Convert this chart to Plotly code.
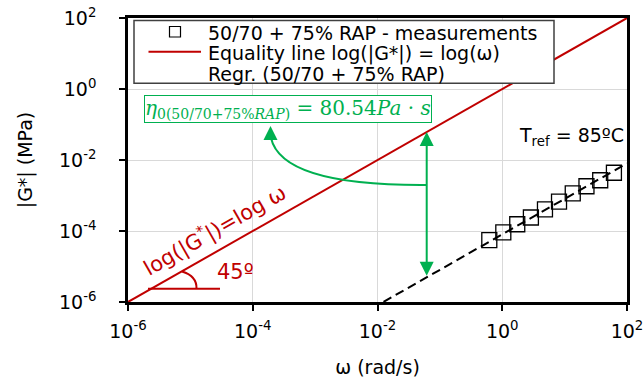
import numpy as np
import plotly.graph_objects as go

# ---- data ----
omega_meas = [0.62, 1.04, 1.74, 2.88, 4.84, 8.13, 13.5, 22.4, 37.2, 61.7]
G_meas = [5.56e-5, 9.12e-5, 1.55e-4, 2.40e-4, 4.07e-4, 6.76e-4, 1.15e-3, 1.82e-3, 2.69e-3, 4.37e-3]
eta0_Pas = 80.54
omega_range = [1e-6, 1e2]
omega_arrow = 0.0615
tick_vals = [1e-6, 1e-4, 1e-2, 1e0, 1e2]
tick_text = ["10<sup>-6</sup>", "10<sup>-4</sup>", "10<sup>-2</sup>", "10<sup>0</sup>", "10<sup>2</sup>"]
legend_names = ["50/70 + 75% RAP - measurements", "Equality line log(|G*|) = log(ω)", "Regr. (50/70 + 75% RAP)"]

G_eq = list(omega_range)
G_fit = [eta0_Pas * 1e-6 * w for w in omega_range]

RED = "#C00000"
GREEN = "#00B050"
FONT = "DejaVu Sans"

# body margin is removed via post_script, so the figure fills the window
W, H = 643, 378
L, T = 128, 18
PW, PH = 499, 284
R, B = W - L - PW, H - T - PH


def px(x):
    return (x - L) / PW


def py(y):
    return (T + PH - y) / PH


fig = go.Figure()
fig.add_trace(go.Scatter(
    x=omega_meas, y=G_meas, mode="markers", name=legend_names[0],
    marker=dict(symbol="square-open", size=15, color="black", line=dict(width=1.3, color="black")),
))
fig.add_trace(go.Scatter(
    x=omega_range, y=G_eq, mode="lines", name=legend_names[1],
    line=dict(color=RED, width=2),
))
fig.add_trace(go.Scatter(
    x=omega_range, y=G_fit, mode="lines", name=legend_names[2],
    line=dict(color="black", width=2, dash="9px,5px"),
))

axis_common = dict(
    type="log", tickvals=tick_vals, ticktext=tick_text, showgrid=True, gridcolor="#d9d9d9",
    gridwidth=1, showline=True, linecolor="black", linewidth=2.5, mirror=True,
    ticks="outside", ticklen=6, tickwidth=2, tickcolor="black", zeroline=False,
    tickfont=dict(family=FONT, size=19, color="black"), automargin=True,
    ticklabeloverflow="allow",
)
fig.update_xaxes(range=[-6, 2], ticklabelstandoff=4,
                 title=dict(text="ω (rad/s)", font=dict(family=FONT, size=19, color="black"), standoff=22),
                 **axis_common)
fig.update_yaxes(range=[-6, 2], ticklabelstandoff=19,
                 title=dict(text="|G*| (MPa)", font=dict(family=FONT, size=19, color="black"), standoff=22),
                 **axis_common)

shapes = []
# custom legend box
shapes.append(dict(type="rect", xref="paper", yref="paper", x0=px(134), y0=py(20.5), x1=px(554), y1=py(83.3),
                   line=dict(color="#404040", width=1.5), fillcolor="white", layer="above"))
shapes.append(dict(type="rect", xref="paper", yref="paper", x0=px(169.5), y0=py(26.5), x1=px(180.5), y1=py(37),
                   line=dict(color="black", width=1.2), fillcolor="rgba(0,0,0,0)", layer="above"))
shapes.append(dict(type="line", xref="paper", yref="paper", x0=px(148.5), y0=py(51.7), x1=px(201), y1=py(51.7),
                   line=dict(color=RED, width=2), layer="above"))
# curved green arrow body
x0, y0 = 426.7, 185
cx, cy = 282, 186
x1, y1 = 271, 138
shapes.append(dict(type="path", xref="paper", yref="paper",
                   path=f"M {px(x0)},{py(y0)} Q {px(cx)},{py(cy)} {px(x1)},{py(y1)}",
                   line=dict(color=GREEN, width=2)))
# 45 degree marker line and arc
shapes.append(dict(type="line", xref="paper", yref="paper", x0=px(148), y0=py(288.7), x1=px(220), y1=py(288.7),
                   line=dict(color=RED, width=2)))
shapes.append(dict(type="path", xref="paper", yref="paper",
                   path=f"M {px(182)},{py(271.5)} Q {px(197)},{py(276)} {px(196.5)},{py(288.7)}",
                   line=dict(color=RED, width=2)))

annotations = []
for name, yc in zip(legend_names, [32.5, 53.3, 73.8]):
    annotations.append(dict(x=px(206), y=py(yc), xref="paper", yref="paper", xanchor="left", yanchor="middle",
                            text=name, showarrow=False, font=dict(family=FONT, size=19, color="black")))
# vertical double arrow between equality line and regression line
lx = np.log10(omega_arrow)
annotations.append(dict(x=lx, y=lx, ax=lx, ay=np.log10(eta0_Pas * 1e-6 * omega_arrow),
                        xref="x", yref="y", axref="x", ayref="y", text="", showarrow=True,
                        arrowhead=2, arrowside="end+start", arrowsize=1.4, arrowwidth=2, arrowcolor=GREEN))
# arrowhead of curved arrow
annotations.append(dict(x=px(270.5), y=py(126), xref="paper", yref="paper", ax=0, ay=14,
                        text="", showarrow=True, arrowhead=2, arrowsize=1.4, arrowwidth=2, arrowcolor=GREEN))
# eta0 box
annotations.append(dict(x=px(288.4), y=py(109.5), xref="paper", yref="paper", xanchor="center", yanchor="middle",
                        text="<i>η</i><sub>0(50/70+75%<i>RAP</i>)</sub> = 80.54<i>Pa</i> · <i>s</i>",
                        showarrow=False, font=dict(family="DejaVu Serif", size=20, color=GREEN),
                        bordercolor=GREEN, borderwidth=1, borderpad=0, bgcolor="white"))
# Tref
annotations.append(dict(x=px(626), y=py(136), xref="paper", yref="paper", xanchor="right", yanchor="middle",
                        text="T<sub>ref</sub> = 85ºC", showarrow=False,
                        font=dict(family=FONT, size=19, color="black")))
# equality line label
annotations.append(dict(x=px(214), y=py(229), xref="paper", yref="paper", xanchor="center", yanchor="middle",
                        text="log(|G<sup>*</sup>|)=log ω", textangle=-29.7, showarrow=False,
                        font=dict(family=FONT, size=21, color=RED)))
# 45 deg
annotations.append(dict(x=px(235), y=py(271.5), xref="paper", yref="paper", xanchor="center", yanchor="middle",
                        text="45º", showarrow=False, font=dict(family=FONT, size=21, color=RED)))

fig.update_layout(
    width=W, height=H, margin=dict(l=L, r=R, t=T, b=B, autoexpand=False),
    paper_bgcolor="white", plot_bgcolor="white",
    font=dict(family=FONT, color="black"),
    shapes=shapes, annotations=annotations,
    showlegend=False,
)

fig.write_html("out.html", config={"displayModeBar": False},
               post_script="document.body.style.margin='0px';")
